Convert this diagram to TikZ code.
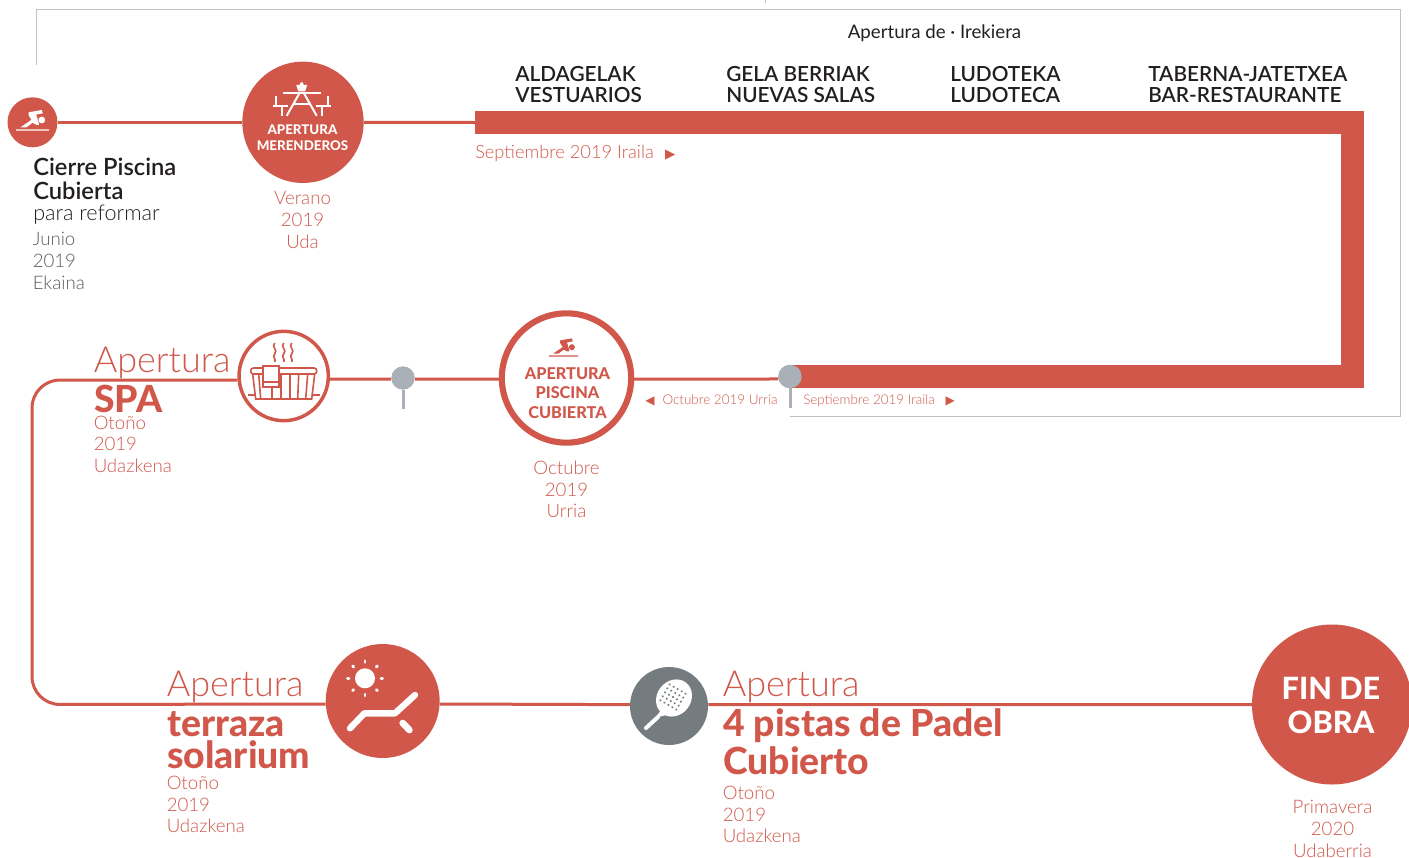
\documentclass[tikz,border=0pt]{standalone}
\usepackage{fontspec}
\usetikzlibrary{positioning}
\setmainfont{Lato}
\newfontfamily\lightfont{Lato Light}
\newfontfamily\mediumfont{Lato Semibold}
\newfontfamily\heavyfont{Lato Heavy}
\newfontfamily\symfont{DejaVu Sans}
\definecolor{obrared}{HTML}{D0574A}
\definecolor{pingrey}{HTML}{A9B0B8}
\definecolor{padelgrey}{HTML}{747C7F}
\definecolor{boxgrey}{HTML}{BFC2C4}
\definecolor{inkdark}{HTML}{231F20}
\definecolor{inkgrey}{HTML}{58595B}
\newcommand{\swimmericon}[3]{%
  \begin{scope}[shift={#1},scale=#2]
  \fill [#3] (9.3,-2.3) circle (3.4);
  \fill [#3] (-4,-10) -- (9.3,-12.3) -- (10.3,-9) -- (3.7,-7.7) -- (5.5,-2) -- (6.5,2.5) -- (4,2.5) -- (0,0.5) -- (-6,5) -- (-12,5) -- (-1,-2.5) -- (-4,-7) -- cycle;
  \draw [#3,line width=0.9pt] (-16.5,7.7) .. controls (-14,6) and (-13,9.4) .. (-11,7.7) .. controls (-8.5,6) and (-7.5,9.4) .. (-5.5,7.7) .. controls (-3,6) and (-2,9.4) .. (0,7.7) .. controls (2.5,6) and (3.5,9.4) .. (5.5,7.7) .. controls (8,6) and (9,9.4) .. (11,7.7) .. controls (13,6) and (14.5,9.4) .. (16.5,7.7);
  \end{scope}}
\tikzset{
  redline/.style={draw=obrared,line width=2.25pt},
  greyline/.style={draw=boxgrey,line width=0.7pt},
  thickbar/.style={draw=obrared,line width=17.25pt,line join=miter},
  stemline/.style={draw=pingrey,line width=2.25pt},
  solidspot/.style={circle,fill=obrared,inner sep=0pt,minimum size=#1},
  ringspot/.style={circle,draw=obrared,fill=white,inner sep=0pt,minimum size=#1},
  pinspot/.style={circle,fill=pingrey,inner sep=0pt,minimum size=17.5pt},
  block/.style={anchor=north west,inner sep=0pt,align=left},
  dateblock/.style={inner sep=0pt,align=center,text=obrared,font=\lightfont\fontsize{14}{16.2}\selectfont},
  dateleft/.style={block,text=obrared,font=\lightfont\fontsize{14}{16.2}\selectfont},
  opentitle/.style={block,text=obrared,font=\lightfont\fontsize{27}{30}\selectfont},
  bigtitle/.style={block,text=obrared,font=\heavyfont\fontsize{28}{24}\selectfont},
  headtitle/.style={block,text=inkdark,font=\mediumfont\fontsize{15.6}{15.6}\selectfont},
  smalldate/.style={inner sep=0pt,text=obrared,font=\lightfont\fontsize{10.1}{12}\selectfont},
}
\begin{document}
\begin{tikzpicture}[x=0.75pt,y=0.75pt,yscale=-1,xscale=1]
\useasboundingbox (0,0) rectangle (1409,857);

%Frame of the opening dates
\coordinate (frameA) at (36,65);
\coordinate (frameB) at (36,9);
\coordinate (frameC) at (1400,9);
\coordinate (frameD) at (1400,416);
\coordinate (frameE) at (790,416);
\draw [greyline] (frameA) -- (frameB) -- (frameC) -- (frameD) -- (frameE);
\coordinate (tickA) at (765,0);
\coordinate (tickB) at (765,3);
\draw [greyline] (tickA) -- (tickB);

%Nodes on the first row
\node [solidspot=37.5pt] (cierre) at (32.5,122.3) {};
\node [solidspot=91pt] (merendero) at (303,122.3) {};
\coordinate (barstart) at (475,122.5);
\coordinate (barcornerA) at (1352.5,122.5);
\coordinate (barcornerB) at (1352.5,376.5);
\node [pinspot] (pinB) at (790,376.5) {};
\coordinate (pinBfoot) at (790,408);

%Nodes on the second row
\node [ringspot=67pt,line width=2.6pt] (spa) at (283.7,376) {};
\node [pinspot] (pinA) at (403,378) {};
\coordinate (pinAfoot) at (403,409);
\node [ringspot=97pt,line width=4.6pt] (piscina) at (566.5,378) {};
\coordinate (turnA) at (32,380);
\coordinate (turnB) at (32,704.5);

%Nodes on the third row
\node [solidspot=85.5pt] (terraza) at (382.7,701) {};
\node [circle,fill=padelgrey,inner sep=0pt,minimum size=58.5pt] (padel) at (669,706) {};
\node [solidspot=120pt] (fin) at (1332,704.5) {};

%Connectors
\draw [redline] (cierre) -- (merendero);
\draw [redline] (merendero) -- (barstart);
\draw [thickbar] (barstart) -- (barcornerA) -- (barcornerB) -- (pinB.center);
\draw [redline] (pinB.192) -- (piscina.359.5);
\draw [redline] (piscina.181) -- (pinA.355);
\draw [redline] (pinA.185) -- (spa.-4);
\draw [redline,rounded corners=21pt] (spa.185) -- (turnA) -- (turnB) -- (terraza.183.5);
\draw [redline] (terraza.-3.5) -- (padel.178);
\draw [redline] (padel.2) -- (fin);
\draw [stemline] (pinA) -- (pinAfoot);
\draw [stemline] (pinB) -- (pinBfoot);
\node [pinspot] (pinBtop) at (pinB) {};

%Icons
\swimmericon{(cierre.center)}{1}{white}
\swimmericon{(563.7,349.2)}{0.88}{obrared}

%Picnic table
\begin{scope}[shift={(301.7,112.8)},white,line width=1.5pt,fill=white]
\fill (-5.5,-28) -- (-3.5,-21.5) -- (3.5,-21.5) -- (5.5,-28) -- (2,-28) -- (1,-30.5) -- (-1,-30.5) -- (-2,-28) -- cycle;
\draw (-19,-20) -- (19,-20);
\draw (-2,-20) -- (-15,3);
\draw (2,-20) -- (15,3);
\draw (-9,-9) -- (9,-9);
\draw (-26,-17) -- (-26,-7);
\draw (26,-17) -- (26,-7);
\draw (-29,-6.5) -- (-14,-6.5);
\draw (14,-6.5) -- (29,-6.5);
\draw (-20,-6.5) -- (-20,3);
\draw (20,-6.5) -- (20,3);
\end{scope}

%Hot tub
\begin{scope}[shift={(spa.center)},draw=obrared,line width=1.2pt]
\draw (-9,-33) .. controls (-13,-29) and (-5,-26) .. (-9,-22) .. controls (-12,-19) and (-7,-17) .. (-9,-14);
\draw (0,-33) .. controls (-4,-29) and (4,-26) .. (0,-22) .. controls (-3,-19) and (2,-17) .. (0,-14);
\draw (8,-33) .. controls (4,-29) and (12,-26) .. (8,-22) .. controls (5,-19) and (10,-17) .. (8,-14);
\draw [rounded corners=2pt] (-33,-8) rectangle (33,-2);
\draw (-31,-2) -- (-28,23) -- (28,23) -- (31,-2);
\draw (-25,-2) -- (-23,23);
\draw (-12,-2) -- (-12,23);
\draw (-3,-2) -- (-3,23);
\draw (6,-2) -- (6,23);
\draw (15,-2) -- (14,23);
\draw (24,-2) -- (22,23);
\draw (-36,19) -- (-28,19);
\draw (28,19) -- (36,19);
\draw [fill=white] (-21,-10) rectangle (-5,11);
\draw (-21,6) -- (-5,6);
\end{scope}

%Lounger and sun
\begin{scope}[shift={(terraza.center)},white]
\fill (-17.7,-22.7) circle (10);
\foreach \a in {0,45,...,315}
  \draw [line width=2.2pt,line cap=round,rotate around={\a:(-17.7,-22.7)}] (-1.7,-22.7) -- (-0.2,-22.7);
\draw [line width=4.8pt,line cap=round,line join=round] (-32.7,27.3) -- (-18.3,12.3) -- (12.3,12.3) -- (32.3,-6);
\draw [line width=5pt,line cap=round] (20,22) -- (26.7,29);
\end{scope}

%Racket
\begin{scope}[shift={(padel.center)},white]
\draw [line width=3pt,line cap=round] (-23,22) -- (-11,11);
\fill [shift={(5,-8)},rotate=38] (0,0) ellipse (17 and 19.5);
\fill (-7,3) -- (-14,12) -- (-3,9) -- cycle;
\foreach \u in {-2,-1,...,2}
  \foreach \v in {-2,-1,...,2}
    \fill [padelgrey,shift={(4,-9)},rotate=30] (\u*4.6,\v*4.6) circle (1.2);
\end{scope}

%Texts
\node [anchor=center,inner sep=0pt,text=inkdark,font=\fontsize{14}{16}\selectfont] (irekiera) at (934.5,33) {Apertura de · Irekiera};
\node [headtitle] (vestuarios) at (515,66) {ALDAGELAK\\VESTUARIOS};
\node [headtitle] (salas) at (726,66) {GELA BERRIAK\\NUEVAS SALAS};
\node [headtitle] (ludoteca) at (950,66) {LUDOTEKA\\LUDOTECA};
\node [headtitle] (restaurante) at (1148,66) {TABERNA-JATETXEA\\BAR-RESTAURANTE};
\node [smalldate,anchor=west,font=\lightfont\fontsize{13.7}{16}\selectfont] (sepbar) at (475,153.5) {Septiembre 2019 Iraila\hspace{8.5pt}{\symfont\fontsize{10}{10}\selectfont ▶}};
\node [smalldate,anchor=west] (octbar) at (645,400.5) {{\symfont\fontsize{9}{9}\selectfont ◀}\hspace{6pt}Octubre 2019 Urria};
\node [smalldate,anchor=west] (sepbarB) at (803,400.5) {Septiembre 2019 Iraila\hspace{8pt}{\symfont\fontsize{9}{9}\selectfont ▶}};

\node [block,text=inkdark,font=\mediumfont\fontsize{17.8}{18}\selectfont] (cierretext) at (33,157.5) {Cierre Piscina\\Cubierta};
\node [block,text=inkdark,font=\lightfont\fontsize{16.2}{18}\selectfont] (reformar) at (33,204.5) {para reformar};
\node [block,text=inkgrey,font=\lightfont\fontsize{14}{16.6}\selectfont] (junio) at (32.5,231.5) {Junio\\2019\\Ekaina};

\node [inner sep=0pt,align=center,text=white,font=\heavyfont\fontsize{10}{12}\selectfont] (merenderotext) at (302.5,137.5) {APERTURA\\MERENDEROS};
\node [dateblock] (verano) at (302.5,220) {Verano\\2019\\Uda};

\node [opentitle] (spatitle) at (93.5,346.5) {Apertura};
\node [bigtitle] (spaname) at (94,385) {SPA};
\node [dateleft] (spadate) at (93.5,415.5) {Otoño\\2019\\Udazkena};

\node [inner sep=0pt,align=center,text=obrared,font=\heavyfont\fontsize{12.2}{14.5}\selectfont] (piscinatext) at (567.5,393) {APERTURA\\PISCINA\\CUBIERTA};
\node [dateblock] (octubre) at (566.5,489.5) {Octubre\\2019\\Urria};

\node [opentitle] (terrazatitle) at (166.5,671) {Apertura};
\node [bigtitle] (terrazaname) at (167,711.5) {terraza\\solarium};
\node [dateleft] (terrazadate) at (166.5,776) {Otoño\\2019\\Udazkena};

\node [opentitle] (padeltitle) at (722.5,671) {Apertura};
\node [bigtitle,font=\heavyfont\fontsize{28}{29}\selectfont] (padelname) at (723,708) {4 pistas de Padel\\Cubierto};
\node [dateleft] (padeldate) at (722.5,786) {Otoño\\2019\\Udazkena};

\node [inner sep=0pt,align=center,text=white,font=\heavyfont\fontsize{23}{26.2}\selectfont] (fintext) at (1331,705.5) {FIN DE\\OBRA};
\node [dateblock] (primavera) at (1332.5,829) {Primavera\\2020\\Udaberria};
\end{tikzpicture}
\end{document}
